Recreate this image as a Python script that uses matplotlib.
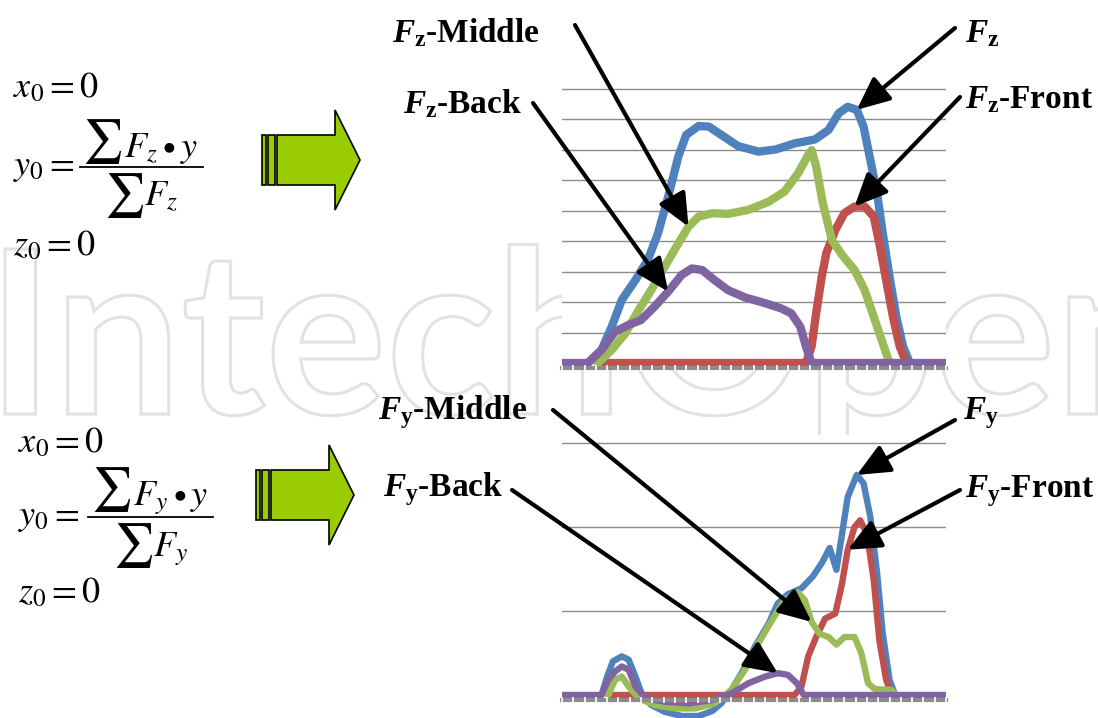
import matplotlib
matplotlib.use("Agg")
import matplotlib.pyplot as plt
from matplotlib.patches import Polygon, PathPatch
from matplotlib.textpath import TextPath
from matplotlib.font_manager import FontProperties
from matplotlib.transforms import Affine2D

W, H = 1098, 718

BLUE = "#4f81bd"
RED = "#c0504d"
GREEN = "#9bbb59"
PURPLE = "#8064a2"

# vertical force Fz (x = sample number, one tick per sample)
fz_total_x = [2.3, 3.5, 4.4, 5.3, 6.5, 7.6, 8.5, 9.4, 10.3, 11.0, 12.1, 13.0, 14.1, 15.6, 17.4,
              18.9, 20.6, 22.4, 23.6, 24.5, 25.3, 26.1, 26.7, 27.3, 27.9, 28.4, 29.0, 29.6, 30.2, 30.8]
fz_total = [0.0, 0.43, 1.19, 2.07, 2.72, 3.38, 4.25, 5.45, 6.77, 7.48, 7.77, 7.75, 7.48, 7.11, 6.93,
            7.0, 7.2, 7.33, 7.64, 8.19, 8.4, 8.3, 7.75, 6.66, 5.56, 4.25, 2.83, 1.52, 0.54, 0.0]

fz_front_x = [3.2, 21.6, 22.1, 22.5, 23.0, 23.4, 24.2, 25.0, 25.9, 26.8, 27.6, 28.1, 28.7, 29.3, 29.9, 30.5]
fz_front = [0.0, 0.0, 0.54, 1.63, 2.83, 3.6, 4.36, 4.91, 5.13, 5.13, 4.8, 3.92, 2.72, 1.52, 0.54, 0.0]

fz_middle_x = [3.2, 4.4, 5.6, 6.8, 7.9, 9.1, 10.3, 11.2, 12.1, 13.3, 14.7, 16.5, 18.3, 19.7, 20.9,
               21.8, 22.1, 22.5, 23.1, 23.9, 24.8, 25.9, 26.8, 27.7, 28.6, 29.0]
fz_middle = [0.0, 0.43, 0.97, 1.74, 2.39, 3.16, 3.92, 4.47, 4.8, 4.91, 4.89, 5.02, 5.29, 5.62, 6.22,
             6.82, 6.98, 6.44, 5.23, 4.03, 3.54, 3.05, 2.39, 1.41, 0.43, 0.0]

fz_back_x = [0.0, 2.3, 3.5, 4.7, 5.9, 7.0, 8.2, 9.4, 10.6, 11.5, 12.4, 13.5, 14.7, 16.2, 18.0,
             19.4, 20.3, 21.1, 21.6, 22.1, 34.0]
fz_back = [0.0, 0.0, 0.43, 1.03, 1.25, 1.41, 1.85, 2.34, 2.89, 3.1, 3.05, 2.72, 2.39, 2.15, 1.96,
           1.79, 1.63, 1.19, 0.54, 0.0, 0.0]

# horizontal force Fy
fy_total_x = [3.5, 4.0, 4.5, 5.3, 5.9, 6.5, 7.1, 7.9, 9.1, 10.6, 12.1, 13.3, 14.1, 15.0, 15.9, 17.1,
              18.3, 19.1, 20.0, 21.2, 22.2, 23.0, 23.7, 24.3, 24.8, 25.3, 26.1, 26.7, 27.3, 27.9,
              28.4, 29.0, 29.5]
fy_total = [0.0, 0.22, 0.4, 0.46, 0.42, 0.22, 0.0, -0.12, -0.2, -0.25, -0.25, -0.19, -0.1, 0.06, 0.26,
            0.58, 0.85, 1.09, 1.2, 1.27, 1.41, 1.57, 1.75, 1.49, 1.92, 2.36, 2.62, 2.52, 2.12, 1.45,
            0.73, 0.18, 0.0]

fy_front_x = [4.1, 20.6, 21.2, 21.8, 22.5, 23.3, 24.2, 24.8, 25.3, 25.9, 26.4, 27.0, 27.6, 28.1, 28.7, 29.2]
fy_front = [0.0, 0.0, 0.1, 0.46, 0.69, 0.91, 0.97, 1.33, 1.73, 2.0, 2.08, 1.92, 1.37, 0.65, 0.18, 0.0]

fy_middle_x = [4.1, 4.7, 5.3, 5.9, 6.8, 8.2, 10.0, 11.8, 13.5, 15.0, 16.2, 17.4, 18.6, 19.7, 20.9,
               21.5, 22.1, 22.8, 23.6, 24.3, 25.0, 25.9, 26.5, 27.1, 27.7, 29.2, 29.5]
fy_middle = [0.0, 0.18, 0.22, 0.1, -0.04, -0.12, -0.16, -0.16, -0.1, 0.06, 0.3, 0.62, 0.89, 1.13, 1.22,
             1.13, 0.87, 0.73, 0.69, 0.6, 0.69, 0.69, 0.5, 0.14, 0.07, 0.06, 0.0]

fy_back_x = [0.0, 3.5, 4.1, 4.7, 5.3, 5.9, 6.5, 7.4, 9.1, 11.2, 13.3, 15.0, 16.5, 18.0, 19.1, 20.0,
             20.8, 21.4, 34.0]
fy_back = [0.0, 0.0, 0.18, 0.28, 0.34, 0.3, 0.1, -0.04, -0.08, -0.1, -0.06, 0.02, 0.14, 0.22, 0.26,
           0.24, 0.14, 0.0, 0.0]

n_samples = 34

plt.rcParams["mathtext.it"] = "Liberation Serif:italic:bold"
plt.rcParams["mathtext.bf"] = "Liberation Serif:bold"
plt.rcParams["mathtext.rm"] = "Liberation Serif:bold"

fig = plt.figure(figsize=(W / 100, H / 100), dpi=100)

# background layer in pixel units (origin top left)
bg = fig.add_axes([0, 0, 1, 1], zorder=0)
bg.set_xlim(0, W)
bg.set_ylim(H, 0)
bg.axis("off")

# outlined watermark, stretched to run across the whole width
wm_font = FontProperties(family="Lato", weight="bold")
wm = TextPath((0, 0), "IntechOpen", size=230, prop=wm_font)
cap = TextPath((0, 0), "I", size=230, prop=wm_font).get_extents()
ext = wm.get_extents()
sy = 165 / cap.height
sx = 1165 / ext.width
wm_tr = Affine2D().translate(-ext.x0, 0).scale(sx, -sy).translate(5, 414)
bg.add_patch(PathPatch(wm_tr.transform_path(wm), facecolor="none", edgecolor="#e2e2e2", lw=2.2))


def block_arrow(x0, yc):
    # two thin bars followed by a fat right arrow
    kw = dict(closed=True, facecolor="#99cc00", edgecolor="black", lw=1.2)
    for a, b in [(x0, x0 + 4), (x0 + 6, x0 + 13)]:
        bg.add_patch(Polygon([(a, yc - 25), (b, yc - 25), (b, yc + 25), (a, yc + 25)], **kw))
    s = x0 + 15
    bg.add_patch(Polygon([(s, yc - 25), (s + 58, yc - 25), (s + 58, yc - 50), (s + 83, yc),
                          (s + 58, yc + 50), (s + 58, yc + 25), (s, yc + 25)], **kw))


block_arrow(262, 160)
block_arrow(256, 495)

mkw = dict(fontsize=26, math_fontfamily="stix", ha="left")


def centroid(x, y, f, bar, bar_l, num, den):
    # x0 = 0, y0 = sum(F*y)/sum(F), z0 = 0 stacked vertically
    bg.text(x, y[0], r"$x_0 = 0$", va="center", **mkw)
    bg.text(x, bar + 8, r"$y_0 =$", va="baseline", **mkw)
    bg.plot(bar_l, [bar, bar], color="black", lw=1.3)
    bg.text(num[0], num[1], r"$\sum$", va="center", fontsize=32, math_fontfamily="stix", ha="left")
    bg.text(num[0] + 42, num[1] + 15, r"$F_%s \bullet y$" % f, va="baseline", **mkw)
    bg.text(den[0], den[1], r"$\sum$", va="center", fontsize=32, math_fontfamily="stix", ha="left")
    bg.text(den[0] + 40, den[1] + 10, r"$F_%s$" % f, va="baseline", **mkw)
    bg.text(x, y[1], r"$z_0 = 0$", va="center", **mkw)


centroid(13, (87, 245), "z", 167, (80, 203), (82, 142), (104, 195))
centroid(18, (442, 592), "y", 517, (88, 213), (91, 490), (113, 546))


def chart(zero_px, unit_px, ymin, ymax, n_grid):
    left, right = 562, 946
    bottom_px = zero_px - ymin * unit_px
    ax = fig.add_axes([left / W, (H - bottom_px) / H, (right - left) / W,
                       (ymax - ymin) * unit_px / H], zorder=1)
    ax.set_xlim(0, n_samples)
    ax.set_ylim(ymin, ymax)
    ax.set_facecolor("white")
    for s in ("top", "left", "right"):
        ax.spines[s].set_visible(False)
    ax.set_axisbelow(True)
    ax.set_yticks(range(1, n_grid + 1))
    ax.yaxis.grid(True, color="#8c8c8c", lw=1.0)
    ax.tick_params(axis="y", length=0, labelleft=False)
    ax.set_xticks(range(0, n_samples + 1))
    ax.tick_params(axis="x", direction="inout", length=5, width=1.2, color="white", labelbottom=False)
    ax.spines["bottom"].set_position(("data", -4.5 / unit_px))
    ax.spines["bottom"].set_color("#8c8c8c")
    ax.spines["bottom"].set_linewidth(3)
    ax.xaxis.set_zorder(3)
    return ax


def draw(ax, series, lw):
    for x, y, c in series:
        ax.plot(x, y, color=c, lw=lw, solid_joinstyle="round", solid_capstyle="round", zorder=2)


top = chart(363, 30.5, -0.2, 9.2, 9)
draw(top, [(fz_total_x, fz_total, BLUE), (fz_front_x, fz_front, RED),
           (fz_middle_x, fz_middle, GREEN), (fz_back_x, fz_back, PURPLE)], 6)

bot = chart(695, 84, -0.275, 3.1, 3)
draw(bot, [(fy_total_x, fy_total, BLUE), (fy_front_x, fy_front, RED),
           (fy_middle_x, fy_middle, GREEN), (fy_back_x, fy_back, PURPLE)], 4.6)

akw = dict(arrowstyle="-|>,head_length=1.0,head_width=0.45", lw=3, color="black",
           shrinkA=0, shrinkB=0, mutation_scale=20)


def pointer(ax, xs, ys, i, tail):
    ax.annotate("", xy=(xs[i], ys[i]), xycoords="data",
                xytext=(tail[0], H - tail[1]), textcoords="figure pixels",
                arrowprops=akw, annotation_clip=False)


pointer(top, fz_middle_x, fz_middle, 7, (575, 25))
pointer(top, fz_back_x, fz_back, 7, (533, 103))
pointer(top, fz_total_x, fz_total, 21, (955, 28))
pointer(top, fz_front_x, fz_front, 8, (960, 97))

pointer(bot, fy_middle_x, fy_middle, 16, (553, 410))
pointer(bot, fy_back_x, fy_back, 14, (512, 490))
pointer(bot, fy_total_x, fy_total, 26, (955, 420))
pointer(bot, fy_front_x, fy_front, 8, (960, 490))

lkw = dict(fontsize=24, family="Liberation Serif", fontweight="bold", math_fontfamily="custom",
           va="baseline", ha="left")
labels = [(392, 42, r"$F_{\mathbf{z}}$-Middle"), (403, 113, r"$F_{\mathbf{z}}$-Back"),
          (965, 42, r"$F_{\mathbf{z}}$"), (965, 108, r"$F_{\mathbf{z}}$-Front"),
          (378, 419, r"$F_{\mathbf{y}}$-Middle"), (383, 496, r"$F_{\mathbf{y}}$-Back"),
          (963, 419, r"$F_{\mathbf{y}}$"), (965, 497, r"$F_{\mathbf{y}}$-Front")]
for x, y, s in labels:
    fig.text(x / W, 1 - y / H, s, zorder=5, **lkw)

fig.savefig("out.png", dpi=100)
